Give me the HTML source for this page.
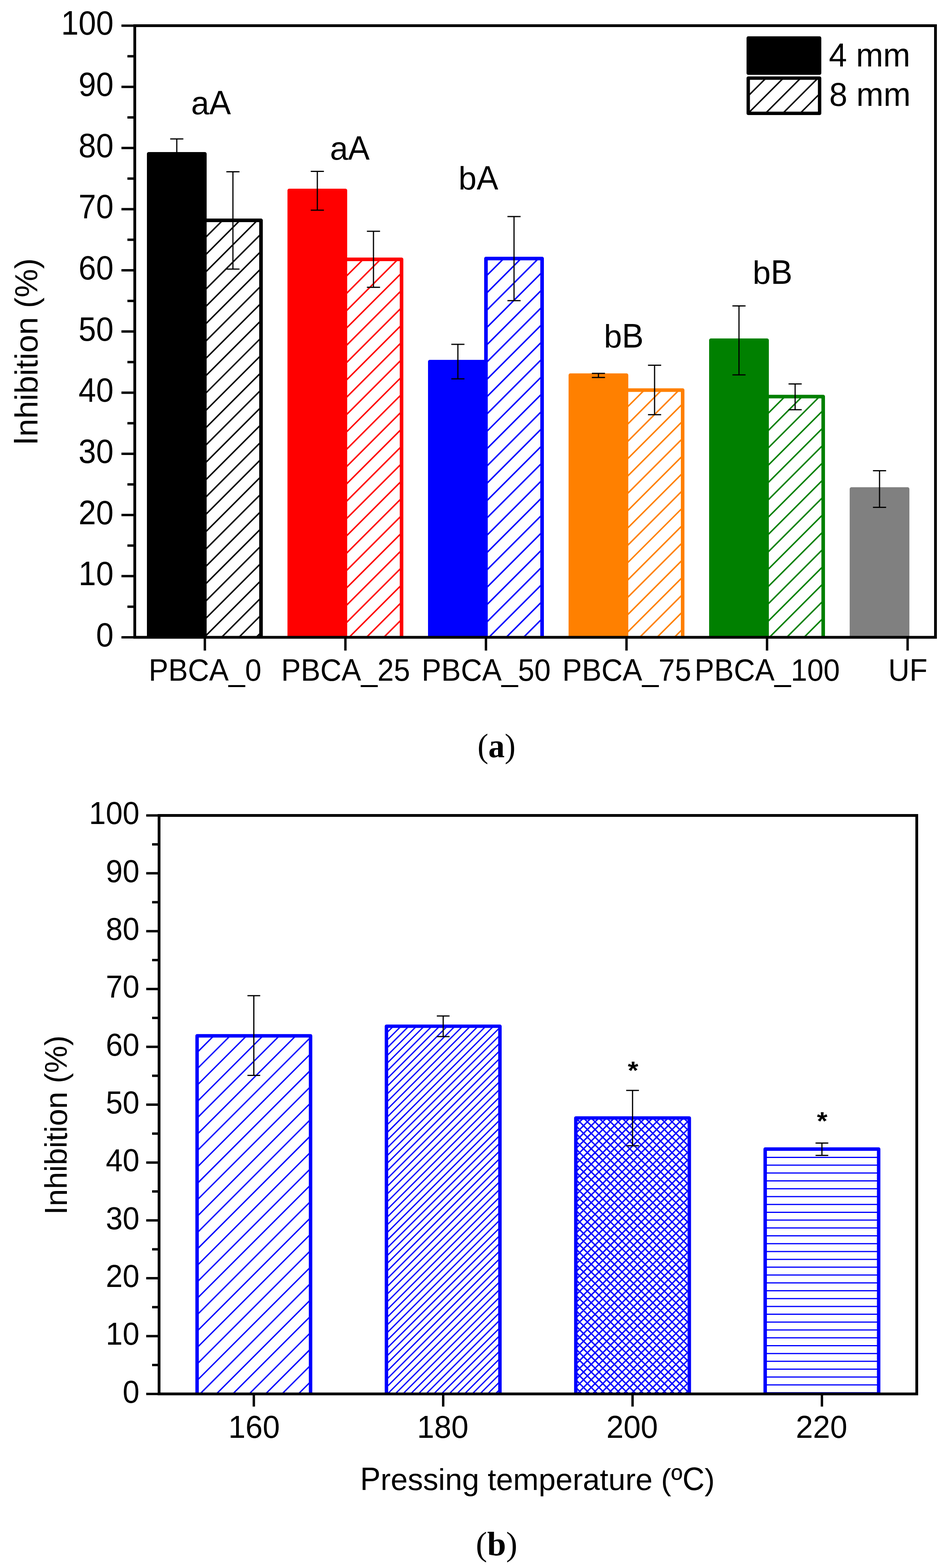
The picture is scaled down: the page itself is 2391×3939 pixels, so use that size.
<!DOCTYPE html>
<html><head><meta charset="utf-8"><title>Inhibition chart</title>
<style>html,body{margin:0;padding:0;background:#fff;}svg{display:block;}text{font-kerning:none;}</style>
</head><body>
<svg width="2391" height="3939" viewBox="0 0 2391 3939">
<rect x="0" y="0" width="2391" height="3939" fill="#fff"/>
<defs><clipPath id="pa"><rect x="0" y="0" width="2391" height="1601"/></clipPath><clipPath id="c1"><rect x="514.5" y="553.5" width="141" height="1051.5"/></clipPath><clipPath id="c2"><rect x="867.5" y="651.5" width="141" height="953.5"/></clipPath><clipPath id="c3"><rect x="1220.5" y="649.5" width="141" height="955.5"/></clipPath><clipPath id="c4"><rect x="1573.5" y="980" width="141" height="625"/></clipPath><clipPath id="c5"><rect x="1926.5" y="996.3" width="141" height="608.7"/></clipPath><clipPath id="c6"><rect x="1879.25" y="196.15" width="179.2" height="88.7"/></clipPath><clipPath id="pb"><rect x="0" y="0" width="2391" height="3501.7"/></clipPath><clipPath id="c7"><rect x="495" y="2602.2" width="285" height="903.5"/></clipPath><clipPath id="c8"><rect x="970.6" y="2578" width="285" height="927.7"/></clipPath><clipPath id="c9"><rect x="1446.2" y="2808.5" width="285" height="697.2"/></clipPath><clipPath id="c10"><rect x="1921.8" y="2886.6" width="285" height="619.1"/></clipPath></defs>
<g clip-path="url(#pa)">
<rect x="514.5" y="553.5" width="141" height="1051.5" fill="#fff"/>
<path clip-path="url(#c1)" d="M-627.86 1610L433.64 548.5M-584.33 1610L477.17 548.5M-540.8 1610L520.7 548.5M-497.27 1610L564.23 548.5M-453.74 1610L607.76 548.5M-410.21 1610L651.29 548.5M-366.68 1610L694.82 548.5M-323.15 1610L738.35 548.5M-279.62 1610L781.88 548.5M-236.09 1610L825.41 548.5M-192.56 1610L868.94 548.5M-149.03 1610L912.47 548.5M-105.5 1610L956 548.5M-61.97 1610L999.53 548.5M-18.44 1610L1043.06 548.5M25.09 1610L1086.59 548.5M68.62 1610L1130.12 548.5M112.15 1610L1173.65 548.5M155.68 1610L1217.18 548.5M199.21 1610L1260.71 548.5M242.74 1610L1304.24 548.5M286.27 1610L1347.77 548.5M329.8 1610L1391.3 548.5M373.33 1610L1434.83 548.5M416.86 1610L1478.36 548.5M460.39 1610L1521.89 548.5M503.92 1610L1565.42 548.5M547.45 1610L1608.95 548.5M590.98 1610L1652.48 548.5M634.51 1610L1696.01 548.5M678.04 1610L1739.54 548.5M721.57 1610L1783.07 548.5" stroke="#000000" stroke-width="3.7" fill="none"/>
<rect x="514.5" y="553.5" width="141" height="1051.5" fill="none" stroke="#000000" stroke-width="9" stroke-linejoin="round"/>
<rect x="373.5" y="386.5" width="141" height="1218.5" fill="#000000" stroke="#000000" stroke-width="9" stroke-linejoin="round"/>
<rect x="867.5" y="651.5" width="141" height="953.5" fill="#fff"/>
<path clip-path="url(#c2)" d="M-176.86 1610L786.64 646.5M-133.33 1610L830.17 646.5M-89.8 1610L873.7 646.5M-46.27 1610L917.23 646.5M-2.74 1610L960.76 646.5M40.79 1610L1004.29 646.5M84.32 1610L1047.82 646.5M127.85 1610L1091.35 646.5M171.38 1610L1134.88 646.5M214.91 1610L1178.41 646.5M258.44 1610L1221.94 646.5M301.97 1610L1265.47 646.5M345.5 1610L1309 646.5M389.03 1610L1352.53 646.5M432.56 1610L1396.06 646.5M476.09 1610L1439.59 646.5M519.62 1610L1483.12 646.5M563.15 1610L1526.65 646.5M606.68 1610L1570.18 646.5M650.21 1610L1613.71 646.5M693.74 1610L1657.24 646.5M737.27 1610L1700.77 646.5M780.8 1610L1744.3 646.5M824.33 1610L1787.83 646.5M867.86 1610L1831.36 646.5M911.39 1610L1874.89 646.5M954.92 1610L1918.42 646.5M998.45 1610L1961.95 646.5M1041.98 1610L2005.48 646.5M1085.51 1610L2049.01 646.5" stroke="#ff0000" stroke-width="3.7" fill="none"/>
<rect x="867.5" y="651.5" width="141" height="953.5" fill="none" stroke="#ff0000" stroke-width="9" stroke-linejoin="round"/>
<rect x="726.5" y="478.5" width="141" height="1126.5" fill="#ff0000" stroke="#ff0000" stroke-width="9" stroke-linejoin="round"/>
<rect x="1220.5" y="649.5" width="141" height="955.5" fill="#fff"/>
<path clip-path="url(#c3)" d="M174.14 1610L1139.64 644.5M217.67 1610L1183.17 644.5M261.2 1610L1226.7 644.5M304.73 1610L1270.23 644.5M348.26 1610L1313.76 644.5M391.79 1610L1357.29 644.5M435.32 1610L1400.82 644.5M478.85 1610L1444.35 644.5M522.38 1610L1487.88 644.5M565.91 1610L1531.41 644.5M609.44 1610L1574.94 644.5M652.97 1610L1618.47 644.5M696.5 1610L1662 644.5M740.03 1610L1705.53 644.5M783.56 1610L1749.06 644.5M827.09 1610L1792.59 644.5M870.62 1610L1836.12 644.5M914.15 1610L1879.65 644.5M957.68 1610L1923.18 644.5M1001.21 1610L1966.71 644.5M1044.74 1610L2010.24 644.5M1088.27 1610L2053.77 644.5M1131.8 1610L2097.3 644.5M1175.33 1610L2140.83 644.5M1218.86 1610L2184.36 644.5M1262.39 1610L2227.89 644.5M1305.92 1610L2271.42 644.5M1349.45 1610L2314.95 644.5M1392.98 1610L2358.48 644.5M1436.51 1610L2402.01 644.5" stroke="#0000ff" stroke-width="3.7" fill="none"/>
<rect x="1220.5" y="649.5" width="141" height="955.5" fill="none" stroke="#0000ff" stroke-width="9" stroke-linejoin="round"/>
<rect x="1079.5" y="908.5" width="141" height="696.5" fill="#0000ff" stroke="#0000ff" stroke-width="9" stroke-linejoin="round"/>
<rect x="1573.5" y="980" width="141" height="625" fill="#fff"/>
<path clip-path="url(#c4)" d="M857.64 1610L1492.64 975M901.17 1610L1536.17 975M944.7 1610L1579.7 975M988.23 1610L1623.23 975M1031.76 1610L1666.76 975M1075.29 1610L1710.29 975M1118.82 1610L1753.82 975M1162.35 1610L1797.35 975M1205.88 1610L1840.88 975M1249.41 1610L1884.41 975M1292.94 1610L1927.94 975M1336.47 1610L1971.47 975M1380 1610L2015 975M1423.53 1610L2058.53 975M1467.06 1610L2102.06 975M1510.59 1610L2145.59 975M1554.12 1610L2189.12 975M1597.65 1610L2232.65 975M1641.18 1610L2276.18 975M1684.71 1610L2319.71 975M1728.24 1610L2363.24 975M1771.77 1610L2406.77 975" stroke="#ff8000" stroke-width="3.7" fill="none"/>
<rect x="1573.5" y="980" width="141" height="625" fill="none" stroke="#ff8000" stroke-width="9" stroke-linejoin="round"/>
<rect x="1432.5" y="942.5" width="141" height="662.5" fill="#ff8000" stroke="#ff8000" stroke-width="9" stroke-linejoin="round"/>
<rect x="1926.5" y="996.3" width="141" height="608.7" fill="#fff"/>
<path clip-path="url(#c5)" d="M1226.94 1610L1845.64 991.3M1270.47 1610L1889.17 991.3M1314 1610L1932.7 991.3M1357.53 1610L1976.23 991.3M1401.06 1610L2019.76 991.3M1444.59 1610L2063.29 991.3M1488.12 1610L2106.82 991.3M1531.65 1610L2150.35 991.3M1575.18 1610L2193.88 991.3M1618.71 1610L2237.41 991.3M1662.24 1610L2280.94 991.3M1705.77 1610L2324.47 991.3M1749.3 1610L2368 991.3M1792.83 1610L2411.53 991.3M1836.36 1610L2455.06 991.3M1879.89 1610L2498.59 991.3M1923.42 1610L2542.12 991.3M1966.95 1610L2585.65 991.3M2010.48 1610L2629.18 991.3M2054.01 1610L2672.71 991.3M2097.54 1610L2716.24 991.3M2141.07 1610L2759.77 991.3" stroke="#008000" stroke-width="3.7" fill="none"/>
<rect x="1926.5" y="996.3" width="141" height="608.7" fill="none" stroke="#008000" stroke-width="9" stroke-linejoin="round"/>
<rect x="1785.5" y="854.7" width="141" height="750.3" fill="#008000" stroke="#008000" stroke-width="9" stroke-linejoin="round"/>
<rect x="2138.5" y="1228.5" width="141" height="376.5" fill="#808080" stroke="#808080" stroke-width="9" stroke-linejoin="round"/>
</g>
<line x1="444" y1="349" x2="444" y2="424" stroke="#000" stroke-width="3" stroke-linecap="butt"/>
<line x1="427.5" y1="349" x2="460.5" y2="349" stroke="#000" stroke-width="3" stroke-linecap="butt"/>
<line x1="427.5" y1="424" x2="460.5" y2="424" stroke="#000" stroke-width="3" stroke-linecap="butt"/>
<line x1="585" y1="431.5" x2="585" y2="676" stroke="#000" stroke-width="3" stroke-linecap="butt"/>
<line x1="568.5" y1="431.5" x2="601.5" y2="431.5" stroke="#000" stroke-width="3" stroke-linecap="butt"/>
<line x1="568.5" y1="676" x2="601.5" y2="676" stroke="#000" stroke-width="3" stroke-linecap="butt"/>
<line x1="797" y1="430.5" x2="797" y2="528" stroke="#000" stroke-width="3" stroke-linecap="butt"/>
<line x1="780.5" y1="430.5" x2="813.5" y2="430.5" stroke="#000" stroke-width="3" stroke-linecap="butt"/>
<line x1="780.5" y1="528" x2="813.5" y2="528" stroke="#000" stroke-width="3" stroke-linecap="butt"/>
<line x1="938" y1="580.9" x2="938" y2="721.8" stroke="#000" stroke-width="3" stroke-linecap="butt"/>
<line x1="921.5" y1="580.9" x2="954.5" y2="580.9" stroke="#000" stroke-width="3" stroke-linecap="butt"/>
<line x1="921.5" y1="721.8" x2="954.5" y2="721.8" stroke="#000" stroke-width="3" stroke-linecap="butt"/>
<line x1="1150" y1="865" x2="1150" y2="951.8" stroke="#000" stroke-width="3" stroke-linecap="butt"/>
<line x1="1133.5" y1="865" x2="1166.5" y2="865" stroke="#000" stroke-width="3" stroke-linecap="butt"/>
<line x1="1133.5" y1="951.8" x2="1166.5" y2="951.8" stroke="#000" stroke-width="3" stroke-linecap="butt"/>
<line x1="1291" y1="543.9" x2="1291" y2="755.2" stroke="#000" stroke-width="3" stroke-linecap="butt"/>
<line x1="1274.5" y1="543.9" x2="1307.5" y2="543.9" stroke="#000" stroke-width="3" stroke-linecap="butt"/>
<line x1="1274.5" y1="755.2" x2="1307.5" y2="755.2" stroke="#000" stroke-width="3" stroke-linecap="butt"/>
<line x1="1503" y1="938" x2="1503" y2="948.2" stroke="#000" stroke-width="3" stroke-linecap="butt"/>
<line x1="1486.5" y1="938" x2="1519.5" y2="938" stroke="#000" stroke-width="3" stroke-linecap="butt"/>
<line x1="1486.5" y1="948.2" x2="1519.5" y2="948.2" stroke="#000" stroke-width="3" stroke-linecap="butt"/>
<line x1="1644" y1="917.5" x2="1644" y2="1041.8" stroke="#000" stroke-width="3" stroke-linecap="butt"/>
<line x1="1627.5" y1="917.5" x2="1660.5" y2="917.5" stroke="#000" stroke-width="3" stroke-linecap="butt"/>
<line x1="1627.5" y1="1041.8" x2="1660.5" y2="1041.8" stroke="#000" stroke-width="3" stroke-linecap="butt"/>
<line x1="1856" y1="768.4" x2="1856" y2="941.8" stroke="#000" stroke-width="3" stroke-linecap="butt"/>
<line x1="1839.5" y1="768.4" x2="1872.5" y2="768.4" stroke="#000" stroke-width="3" stroke-linecap="butt"/>
<line x1="1839.5" y1="941.8" x2="1872.5" y2="941.8" stroke="#000" stroke-width="3" stroke-linecap="butt"/>
<line x1="1997" y1="964.5" x2="1997" y2="1029.3" stroke="#000" stroke-width="3" stroke-linecap="butt"/>
<line x1="1980.5" y1="964.5" x2="2013.5" y2="964.5" stroke="#000" stroke-width="3" stroke-linecap="butt"/>
<line x1="1980.5" y1="1029.3" x2="2013.5" y2="1029.3" stroke="#000" stroke-width="3" stroke-linecap="butt"/>
<line x1="2209" y1="1182.5" x2="2209" y2="1274.6" stroke="#000" stroke-width="3" stroke-linecap="butt"/>
<line x1="2192.5" y1="1182.5" x2="2225.5" y2="1182.5" stroke="#000" stroke-width="3" stroke-linecap="butt"/>
<line x1="2192.5" y1="1274.6" x2="2225.5" y2="1274.6" stroke="#000" stroke-width="3" stroke-linecap="butt"/>
<rect x="338.5" y="64.5" width="2011" height="1536.5" fill="none" stroke="#000" stroke-width="7"/>
<line x1="305" y1="1601" x2="338.5" y2="1601" stroke="#000" stroke-width="6" stroke-linecap="butt"/>
<line x1="320" y1="1524.17" x2="338.5" y2="1524.17" stroke="#000" stroke-width="6" stroke-linecap="butt"/>
<line x1="305" y1="1447.35" x2="338.5" y2="1447.35" stroke="#000" stroke-width="6" stroke-linecap="butt"/>
<line x1="320" y1="1370.53" x2="338.5" y2="1370.53" stroke="#000" stroke-width="6" stroke-linecap="butt"/>
<line x1="305" y1="1293.7" x2="338.5" y2="1293.7" stroke="#000" stroke-width="6" stroke-linecap="butt"/>
<line x1="320" y1="1216.88" x2="338.5" y2="1216.88" stroke="#000" stroke-width="6" stroke-linecap="butt"/>
<line x1="305" y1="1140.05" x2="338.5" y2="1140.05" stroke="#000" stroke-width="6" stroke-linecap="butt"/>
<line x1="320" y1="1063.22" x2="338.5" y2="1063.22" stroke="#000" stroke-width="6" stroke-linecap="butt"/>
<line x1="305" y1="986.4" x2="338.5" y2="986.4" stroke="#000" stroke-width="6" stroke-linecap="butt"/>
<line x1="320" y1="909.58" x2="338.5" y2="909.58" stroke="#000" stroke-width="6" stroke-linecap="butt"/>
<line x1="305" y1="832.75" x2="338.5" y2="832.75" stroke="#000" stroke-width="6" stroke-linecap="butt"/>
<line x1="320" y1="755.92" x2="338.5" y2="755.92" stroke="#000" stroke-width="6" stroke-linecap="butt"/>
<line x1="305" y1="679.1" x2="338.5" y2="679.1" stroke="#000" stroke-width="6" stroke-linecap="butt"/>
<line x1="320" y1="602.27" x2="338.5" y2="602.27" stroke="#000" stroke-width="6" stroke-linecap="butt"/>
<line x1="305" y1="525.45" x2="338.5" y2="525.45" stroke="#000" stroke-width="6" stroke-linecap="butt"/>
<line x1="320" y1="448.62" x2="338.5" y2="448.62" stroke="#000" stroke-width="6" stroke-linecap="butt"/>
<line x1="305" y1="371.8" x2="338.5" y2="371.8" stroke="#000" stroke-width="6" stroke-linecap="butt"/>
<line x1="320" y1="294.97" x2="338.5" y2="294.97" stroke="#000" stroke-width="6" stroke-linecap="butt"/>
<line x1="305" y1="218.15" x2="338.5" y2="218.15" stroke="#000" stroke-width="6" stroke-linecap="butt"/>
<line x1="320" y1="141.33" x2="338.5" y2="141.33" stroke="#000" stroke-width="6" stroke-linecap="butt"/>
<line x1="305" y1="64.5" x2="338.5" y2="64.5" stroke="#000" stroke-width="6" stroke-linecap="butt"/>
<line x1="514.5" y1="1601" x2="514.5" y2="1634.3" stroke="#000" stroke-width="6" stroke-linecap="butt"/>
<line x1="867.5" y1="1601" x2="867.5" y2="1634.3" stroke="#000" stroke-width="6" stroke-linecap="butt"/>
<line x1="1220.5" y1="1601" x2="1220.5" y2="1634.3" stroke="#000" stroke-width="6" stroke-linecap="butt"/>
<line x1="1573.5" y1="1601" x2="1573.5" y2="1634.3" stroke="#000" stroke-width="6" stroke-linecap="butt"/>
<line x1="1926.5" y1="1601" x2="1926.5" y2="1634.3" stroke="#000" stroke-width="6" stroke-linecap="butt"/>
<line x1="2279.5" y1="1601" x2="2279.5" y2="1634.3" stroke="#000" stroke-width="6" stroke-linecap="butt"/>
<text x="0" y="0" font-size="79" font-family="'Liberation Sans', Arial, sans-serif" transform="translate(241.25 1623.8) scale(1 1.07)">0</text>
<text x="0" y="0" font-size="79" font-family="'Liberation Sans', Arial, sans-serif" transform="translate(197.31 1470.15) scale(1 1.07)">10</text>
<text x="0" y="0" font-size="79" font-family="'Liberation Sans', Arial, sans-serif" transform="translate(197.31 1316.5) scale(1 1.07)">20</text>
<text x="0" y="0" font-size="79" font-family="'Liberation Sans', Arial, sans-serif" transform="translate(197.31 1162.85) scale(1 1.07)">30</text>
<text x="0" y="0" font-size="79" font-family="'Liberation Sans', Arial, sans-serif" transform="translate(197.31 1009.2) scale(1 1.07)">40</text>
<text x="0" y="0" font-size="79" font-family="'Liberation Sans', Arial, sans-serif" transform="translate(197.31 855.55) scale(1 1.07)">50</text>
<text x="0" y="0" font-size="79" font-family="'Liberation Sans', Arial, sans-serif" transform="translate(197.31 701.9) scale(1 1.07)">60</text>
<text x="0" y="0" font-size="79" font-family="'Liberation Sans', Arial, sans-serif" transform="translate(197.31 548.25) scale(1 1.07)">70</text>
<text x="0" y="0" font-size="79" font-family="'Liberation Sans', Arial, sans-serif" transform="translate(197.31 394.6) scale(1 1.07)">80</text>
<text x="0" y="0" font-size="79" font-family="'Liberation Sans', Arial, sans-serif" transform="translate(197.31 240.95) scale(1 1.07)">90</text>
<text x="0" y="0" font-size="79" font-family="'Liberation Sans', Arial, sans-serif" transform="translate(153.38 87.3) scale(1 1.07)">100</text>
<text x="0" y="0" font-size="73.74" font-family="'Liberation Sans', Arial, sans-serif" transform="translate(373.6 1710) scale(1 1.05)">PBCA_0</text>
<text x="0" y="0" font-size="73.74" font-family="'Liberation Sans', Arial, sans-serif" transform="translate(706.21 1710) scale(1 1.05)">PBCA_25</text>
<text x="0" y="0" font-size="73.74" font-family="'Liberation Sans', Arial, sans-serif" transform="translate(1059.1 1710) scale(1 1.05)">PBCA_50</text>
<text x="0" y="0" font-size="73.74" font-family="'Liberation Sans', Arial, sans-serif" transform="translate(1412.21 1710) scale(1 1.05)">PBCA_75</text>
<text x="0" y="0" font-size="73.74" font-family="'Liberation Sans', Arial, sans-serif" transform="translate(1744.59 1710) scale(1 1.05)">PBCA_100</text>
<text x="0" y="0" font-size="73.74" font-family="'Liberation Sans', Arial, sans-serif" transform="translate(2231.08 1710) scale(1 1.05)">UF</text>
<g transform="translate(93.8 1119.04) rotate(-90)"><text x="0" y="0" font-size="80.58" font-family="'Liberation Sans', Arial, sans-serif" transform="translate(0 0) scale(1 1.06)">I</text><text x="0" y="0" font-size="80.58" font-family="'Liberation Sans', Arial, sans-serif" transform="translate(22.39 0) scale(1 1)">nhibition (%)</text></g>
<text x="0" y="0" font-size="81.6" font-family="'Liberation Sans', Arial, sans-serif" transform="translate(480.03 287.4) scale(1 1)">a</text>
<text x="0" y="0" font-size="81.6" font-family="'Liberation Sans', Arial, sans-serif" transform="translate(525.42 287.4) scale(1 1.05)">A</text>
<text x="0" y="0" font-size="81.6" font-family="'Liberation Sans', Arial, sans-serif" transform="translate(828.63 400.8) scale(1 1)">a</text>
<text x="0" y="0" font-size="81.6" font-family="'Liberation Sans', Arial, sans-serif" transform="translate(874.02 400.8) scale(1 1.05)">A</text>
<text x="0" y="0" font-size="81.6" font-family="'Liberation Sans', Arial, sans-serif" transform="translate(1151.54 476.2) scale(1 1)">b</text>
<text x="0" y="0" font-size="81.6" font-family="'Liberation Sans', Arial, sans-serif" transform="translate(1196.92 476.2) scale(1 1.05)">A</text>
<text x="0" y="0" font-size="81.6" font-family="'Liberation Sans', Arial, sans-serif" transform="translate(1516.64 872.9) scale(1 1)">b</text>
<text x="0" y="0" font-size="81.6" font-family="'Liberation Sans', Arial, sans-serif" transform="translate(1562.02 872.9) scale(1 1.05)">B</text>
<text x="0" y="0" font-size="81.6" font-family="'Liberation Sans', Arial, sans-serif" transform="translate(1890.34 713.4) scale(1 1)">b</text>
<text x="0" y="0" font-size="81.6" font-family="'Liberation Sans', Arial, sans-serif" transform="translate(1935.72 713.4) scale(1 1.05)">B</text>
<rect x="1879.25" y="95.45" width="179.2" height="88.3" fill="#000" stroke="#000" stroke-width="8.5" stroke-linejoin="round"/>
<rect x="1879.25" y="196.15" width="179.2" height="88.7" fill="#fff"/>
<path clip-path="url(#c6)" d="M1699.69 289.85L1798.39 191.15M1743.22 289.85L1841.92 191.15M1786.75 289.85L1885.45 191.15M1830.28 289.85L1928.98 191.15M1873.81 289.85L1972.51 191.15M1917.34 289.85L2016.04 191.15M1960.87 289.85L2059.57 191.15M2004.4 289.85L2103.1 191.15M2047.93 289.85L2146.63 191.15M2091.46 289.85L2190.16 191.15M2134.99 289.85L2233.69 191.15" stroke="#000" stroke-width="3.7" fill="none"/>
<rect x="1879.25" y="196.15" width="179.2" height="88.7" fill="none" stroke="#000" stroke-width="8.5" stroke-linejoin="round"/>
<text x="0" y="0" font-size="81.8" font-family="'Liberation Sans', Arial, sans-serif" transform="translate(2081.72 167.2) scale(1 1.01)">4 mm</text>
<text x="0" y="0" font-size="81.8" font-family="'Liberation Sans', Arial, sans-serif" transform="translate(2082.65 266.3) scale(1 1.01)">8 mm</text>
<text x="0" y="0" font-size="85.5" font-family="'Liberation Serif', 'Times New Roman', serif" transform="translate(1199.19 1902.4) scale(0.96 1)">(<tspan font-weight="bold">a</tspan>)</text>
<g clip-path="url(#pb)">
<rect x="495" y="2602.2" width="285" height="903.5" fill="#fff"/>
<path clip-path="url(#c7)" d="M-495.28 3510.7L418.22 2597.2M-454.09 3510.7L459.41 2597.2M-412.9 3510.7L500.6 2597.2M-371.71 3510.7L541.79 2597.2M-330.52 3510.7L582.98 2597.2M-289.33 3510.7L624.17 2597.2M-248.14 3510.7L665.36 2597.2M-206.95 3510.7L706.55 2597.2M-165.76 3510.7L747.74 2597.2M-124.57 3510.7L788.93 2597.2M-83.38 3510.7L830.12 2597.2M-42.19 3510.7L871.31 2597.2M-1 3510.7L912.5 2597.2M40.19 3510.7L953.69 2597.2M81.38 3510.7L994.88 2597.2M122.57 3510.7L1036.07 2597.2M163.76 3510.7L1077.26 2597.2M204.95 3510.7L1118.45 2597.2M246.14 3510.7L1159.64 2597.2M287.33 3510.7L1200.83 2597.2M328.52 3510.7L1242.02 2597.2M369.71 3510.7L1283.21 2597.2M410.9 3510.7L1324.4 2597.2M452.09 3510.7L1365.59 2597.2M493.28 3510.7L1406.78 2597.2M534.47 3510.7L1447.97 2597.2M575.66 3510.7L1489.16 2597.2M616.85 3510.7L1530.35 2597.2M658.04 3510.7L1571.54 2597.2M699.23 3510.7L1612.73 2597.2M740.42 3510.7L1653.92 2597.2M781.61 3510.7L1695.11 2597.2M822.8 3510.7L1736.3 2597.2" stroke="#0000ff" stroke-width="3.4" fill="none"/>
<rect x="495" y="2602.2" width="285" height="903.5" fill="none" stroke="#0000ff" stroke-width="8.7" stroke-linejoin="round"/>
<rect x="970.6" y="2578" width="285" height="927.7" fill="#fff"/>
<path clip-path="url(#c8)" d="M16.57 3510.7L954.27 2573M35.91 3510.7L973.61 2573M55.25 3510.7L992.95 2573M74.59 3510.7L1012.29 2573M93.93 3510.7L1031.63 2573M113.27 3510.7L1050.97 2573M132.61 3510.7L1070.31 2573M151.95 3510.7L1089.65 2573M171.29 3510.7L1108.99 2573M190.63 3510.7L1128.33 2573M209.97 3510.7L1147.67 2573M229.31 3510.7L1167.01 2573M248.65 3510.7L1186.35 2573M267.99 3510.7L1205.69 2573M287.33 3510.7L1225.03 2573M306.67 3510.7L1244.37 2573M326.01 3510.7L1263.71 2573M345.35 3510.7L1283.05 2573M364.69 3510.7L1302.39 2573M384.03 3510.7L1321.73 2573M403.37 3510.7L1341.07 2573M422.71 3510.7L1360.41 2573M442.05 3510.7L1379.75 2573M461.39 3510.7L1399.09 2573M480.73 3510.7L1418.43 2573M500.07 3510.7L1437.77 2573M519.41 3510.7L1457.11 2573M538.75 3510.7L1476.45 2573M558.09 3510.7L1495.79 2573M577.43 3510.7L1515.13 2573M596.77 3510.7L1534.47 2573M616.11 3510.7L1553.81 2573M635.45 3510.7L1573.15 2573M654.79 3510.7L1592.49 2573M674.13 3510.7L1611.83 2573M693.47 3510.7L1631.17 2573M712.81 3510.7L1650.51 2573M732.15 3510.7L1669.85 2573M751.49 3510.7L1689.19 2573M770.83 3510.7L1708.53 2573M790.17 3510.7L1727.87 2573M809.51 3510.7L1747.21 2573M828.85 3510.7L1766.55 2573M848.19 3510.7L1785.89 2573M867.53 3510.7L1805.23 2573M886.87 3510.7L1824.57 2573M906.21 3510.7L1843.91 2573M925.55 3510.7L1863.25 2573M944.89 3510.7L1882.59 2573M964.23 3510.7L1901.93 2573M983.57 3510.7L1921.27 2573M1002.91 3510.7L1940.61 2573M1022.25 3510.7L1959.95 2573M1041.59 3510.7L1979.29 2573M1060.93 3510.7L1998.63 2573M1080.27 3510.7L2017.97 2573M1099.61 3510.7L2037.31 2573M1118.95 3510.7L2056.65 2573M1138.29 3510.7L2075.99 2573M1157.63 3510.7L2095.33 2573M1176.97 3510.7L2114.67 2573M1196.31 3510.7L2134.01 2573M1215.65 3510.7L2153.35 2573M1234.99 3510.7L2172.69 2573M1254.33 3510.7L2192.03 2573M1273.67 3510.7L2211.37 2573" stroke="#0000ff" stroke-width="3.2" fill="none"/>
<rect x="970.6" y="2578" width="285" height="927.7" fill="none" stroke="#0000ff" stroke-width="8.7" stroke-linejoin="round"/>
<rect x="1446.2" y="2808.5" width="285" height="697.2" fill="#fff"/>
<path clip-path="url(#c9)" d="M724.66 3510.7L1431.86 2803.5M744 3510.7L1451.2 2803.5M763.34 3510.7L1470.54 2803.5M782.68 3510.7L1489.88 2803.5M802.02 3510.7L1509.22 2803.5M821.36 3510.7L1528.56 2803.5M840.7 3510.7L1547.9 2803.5M860.04 3510.7L1567.24 2803.5M879.38 3510.7L1586.58 2803.5M898.72 3510.7L1605.92 2803.5M918.06 3510.7L1625.26 2803.5M937.4 3510.7L1644.6 2803.5M956.74 3510.7L1663.94 2803.5M976.08 3510.7L1683.28 2803.5M995.42 3510.7L1702.62 2803.5M1014.76 3510.7L1721.96 2803.5M1034.1 3510.7L1741.3 2803.5M1053.44 3510.7L1760.64 2803.5M1072.78 3510.7L1779.98 2803.5M1092.12 3510.7L1799.32 2803.5M1111.46 3510.7L1818.66 2803.5M1130.8 3510.7L1838 2803.5M1150.14 3510.7L1857.34 2803.5M1169.48 3510.7L1876.68 2803.5M1188.82 3510.7L1896.02 2803.5M1208.16 3510.7L1915.36 2803.5M1227.5 3510.7L1934.7 2803.5M1246.84 3510.7L1954.04 2803.5M1266.18 3510.7L1973.38 2803.5M1285.52 3510.7L1992.72 2803.5M1304.86 3510.7L2012.06 2803.5M1324.2 3510.7L2031.4 2803.5M1343.54 3510.7L2050.74 2803.5M1362.88 3510.7L2070.08 2803.5M1382.22 3510.7L2089.42 2803.5M1401.56 3510.7L2108.76 2803.5M1420.9 3510.7L2128.1 2803.5M1440.24 3510.7L2147.44 2803.5M1459.58 3510.7L2166.78 2803.5M1478.92 3510.7L2186.12 2803.5M1498.26 3510.7L2205.46 2803.5M1517.6 3510.7L2224.8 2803.5M1536.94 3510.7L2244.14 2803.5M1556.28 3510.7L2263.48 2803.5M1575.62 3510.7L2282.82 2803.5M1594.96 3510.7L2302.16 2803.5M1614.3 3510.7L2321.5 2803.5M1633.64 3510.7L2340.84 2803.5M1652.98 3510.7L2360.18 2803.5M1672.32 3510.7L2379.52 2803.5M1691.66 3510.7L2398.86 2803.5M1711 3510.7L2418.2 2803.5M1730.34 3510.7L2437.54 2803.5M1749.68 3510.7L2456.88 2803.5M706.28 2803.5L1413.48 3510.7M725.62 2803.5L1432.82 3510.7M744.96 2803.5L1452.16 3510.7M764.3 2803.5L1471.5 3510.7M783.64 2803.5L1490.84 3510.7M802.98 2803.5L1510.18 3510.7M822.32 2803.5L1529.52 3510.7M841.66 2803.5L1548.86 3510.7M861 2803.5L1568.2 3510.7M880.34 2803.5L1587.54 3510.7M899.68 2803.5L1606.88 3510.7M919.02 2803.5L1626.22 3510.7M938.36 2803.5L1645.56 3510.7M957.7 2803.5L1664.9 3510.7M977.04 2803.5L1684.24 3510.7M996.38 2803.5L1703.58 3510.7M1015.72 2803.5L1722.92 3510.7M1035.06 2803.5L1742.26 3510.7M1054.4 2803.5L1761.6 3510.7M1073.74 2803.5L1780.94 3510.7M1093.08 2803.5L1800.28 3510.7M1112.42 2803.5L1819.62 3510.7M1131.76 2803.5L1838.96 3510.7M1151.1 2803.5L1858.3 3510.7M1170.44 2803.5L1877.64 3510.7M1189.78 2803.5L1896.98 3510.7M1209.12 2803.5L1916.32 3510.7M1228.46 2803.5L1935.66 3510.7M1247.8 2803.5L1955 3510.7M1267.14 2803.5L1974.34 3510.7M1286.48 2803.5L1993.68 3510.7M1305.82 2803.5L2013.02 3510.7M1325.16 2803.5L2032.36 3510.7M1344.5 2803.5L2051.7 3510.7M1363.84 2803.5L2071.04 3510.7M1383.18 2803.5L2090.38 3510.7M1402.52 2803.5L2109.72 3510.7M1421.86 2803.5L2129.06 3510.7M1441.2 2803.5L2148.4 3510.7M1460.54 2803.5L2167.74 3510.7M1479.88 2803.5L2187.08 3510.7M1499.22 2803.5L2206.42 3510.7M1518.56 2803.5L2225.76 3510.7M1537.9 2803.5L2245.1 3510.7M1557.24 2803.5L2264.44 3510.7M1576.58 2803.5L2283.78 3510.7M1595.92 2803.5L2303.12 3510.7M1615.26 2803.5L2322.46 3510.7M1634.6 2803.5L2341.8 3510.7M1653.94 2803.5L2361.14 3510.7M1673.28 2803.5L2380.48 3510.7M1692.62 2803.5L2399.82 3510.7M1711.96 2803.5L2419.16 3510.7M1731.3 2803.5L2438.5 3510.7M1750.64 2803.5L2457.84 3510.7" stroke="#0000ff" stroke-width="3.5" fill="none"/>
<rect x="1446.2" y="2808.5" width="285" height="697.2" fill="none" stroke="#0000ff" stroke-width="8.7" stroke-linejoin="round"/>
<rect x="1921.8" y="2886.6" width="285" height="619.1" fill="#fff"/>
<path clip-path="url(#c10)" d="M1919.8 2887.7L2208.8 2887.7M1919.8 2907.41L2208.8 2907.41M1919.8 2927.12L2208.8 2927.12M1919.8 2946.83L2208.8 2946.83M1919.8 2966.54L2208.8 2966.54M1919.8 2986.25L2208.8 2986.25M1919.8 3005.96L2208.8 3005.96M1919.8 3025.67L2208.8 3025.67M1919.8 3045.38L2208.8 3045.38M1919.8 3065.09L2208.8 3065.09M1919.8 3084.8L2208.8 3084.8M1919.8 3104.51L2208.8 3104.51M1919.8 3124.22L2208.8 3124.22M1919.8 3143.93L2208.8 3143.93M1919.8 3163.64L2208.8 3163.64M1919.8 3183.35L2208.8 3183.35M1919.8 3203.06L2208.8 3203.06M1919.8 3222.77L2208.8 3222.77M1919.8 3242.48L2208.8 3242.48M1919.8 3262.19L2208.8 3262.19M1919.8 3281.9L2208.8 3281.9M1919.8 3301.61L2208.8 3301.61M1919.8 3321.32L2208.8 3321.32M1919.8 3341.03L2208.8 3341.03M1919.8 3360.74L2208.8 3360.74M1919.8 3380.45L2208.8 3380.45M1919.8 3400.16L2208.8 3400.16M1919.8 3419.87L2208.8 3419.87M1919.8 3439.58L2208.8 3439.58M1919.8 3459.29L2208.8 3459.29M1919.8 3479L2208.8 3479M1919.8 3498.71L2208.8 3498.71M1919.8 3518.42L2208.8 3518.42" stroke="#0000ff" stroke-width="3" fill="none"/>
<rect x="1921.8" y="2886.6" width="285" height="619.1" fill="none" stroke="#0000ff" stroke-width="8.7" stroke-linejoin="round"/>
</g>
<line x1="637.5" y1="2501.3" x2="637.5" y2="2701.5" stroke="#000" stroke-width="3" stroke-linecap="butt"/>
<line x1="621.5" y1="2501.3" x2="653.5" y2="2501.3" stroke="#000" stroke-width="3" stroke-linecap="butt"/>
<line x1="621.5" y1="2701.5" x2="653.5" y2="2701.5" stroke="#000" stroke-width="3" stroke-linecap="butt"/>
<line x1="1113.1" y1="2552.2" x2="1113.1" y2="2604" stroke="#000" stroke-width="3" stroke-linecap="butt"/>
<line x1="1097.1" y1="2552.2" x2="1129.1" y2="2552.2" stroke="#000" stroke-width="3" stroke-linecap="butt"/>
<line x1="1097.1" y1="2604" x2="1129.1" y2="2604" stroke="#000" stroke-width="3" stroke-linecap="butt"/>
<line x1="1588.7" y1="2739.3" x2="1588.7" y2="2878.2" stroke="#000" stroke-width="3" stroke-linecap="butt"/>
<line x1="1572.7" y1="2739.3" x2="1604.7" y2="2739.3" stroke="#000" stroke-width="3" stroke-linecap="butt"/>
<line x1="1572.7" y1="2878.2" x2="1604.7" y2="2878.2" stroke="#000" stroke-width="3" stroke-linecap="butt"/>
<line x1="2064.3" y1="2871.4" x2="2064.3" y2="2902.5" stroke="#000" stroke-width="3" stroke-linecap="butt"/>
<line x1="2048.3" y1="2871.4" x2="2080.3" y2="2871.4" stroke="#000" stroke-width="3" stroke-linecap="butt"/>
<line x1="2048.3" y1="2902.5" x2="2080.3" y2="2902.5" stroke="#000" stroke-width="3" stroke-linecap="butt"/>
<rect x="399.5" y="2048.5" width="1903" height="1453.2" fill="none" stroke="#000" stroke-width="7"/>
<line x1="367.2" y1="3501.7" x2="399.5" y2="3501.7" stroke="#000" stroke-width="6" stroke-linecap="butt"/>
<line x1="382" y1="3429.04" x2="399.5" y2="3429.04" stroke="#000" stroke-width="6" stroke-linecap="butt"/>
<line x1="367.2" y1="3356.38" x2="399.5" y2="3356.38" stroke="#000" stroke-width="6" stroke-linecap="butt"/>
<line x1="382" y1="3283.72" x2="399.5" y2="3283.72" stroke="#000" stroke-width="6" stroke-linecap="butt"/>
<line x1="367.2" y1="3211.06" x2="399.5" y2="3211.06" stroke="#000" stroke-width="6" stroke-linecap="butt"/>
<line x1="382" y1="3138.4" x2="399.5" y2="3138.4" stroke="#000" stroke-width="6" stroke-linecap="butt"/>
<line x1="367.2" y1="3065.74" x2="399.5" y2="3065.74" stroke="#000" stroke-width="6" stroke-linecap="butt"/>
<line x1="382" y1="2993.08" x2="399.5" y2="2993.08" stroke="#000" stroke-width="6" stroke-linecap="butt"/>
<line x1="367.2" y1="2920.42" x2="399.5" y2="2920.42" stroke="#000" stroke-width="6" stroke-linecap="butt"/>
<line x1="382" y1="2847.76" x2="399.5" y2="2847.76" stroke="#000" stroke-width="6" stroke-linecap="butt"/>
<line x1="367.2" y1="2775.1" x2="399.5" y2="2775.1" stroke="#000" stroke-width="6" stroke-linecap="butt"/>
<line x1="382" y1="2702.44" x2="399.5" y2="2702.44" stroke="#000" stroke-width="6" stroke-linecap="butt"/>
<line x1="367.2" y1="2629.78" x2="399.5" y2="2629.78" stroke="#000" stroke-width="6" stroke-linecap="butt"/>
<line x1="382" y1="2557.12" x2="399.5" y2="2557.12" stroke="#000" stroke-width="6" stroke-linecap="butt"/>
<line x1="367.2" y1="2484.46" x2="399.5" y2="2484.46" stroke="#000" stroke-width="6" stroke-linecap="butt"/>
<line x1="382" y1="2411.8" x2="399.5" y2="2411.8" stroke="#000" stroke-width="6" stroke-linecap="butt"/>
<line x1="367.2" y1="2339.14" x2="399.5" y2="2339.14" stroke="#000" stroke-width="6" stroke-linecap="butt"/>
<line x1="382" y1="2266.48" x2="399.5" y2="2266.48" stroke="#000" stroke-width="6" stroke-linecap="butt"/>
<line x1="367.2" y1="2193.82" x2="399.5" y2="2193.82" stroke="#000" stroke-width="6" stroke-linecap="butt"/>
<line x1="382" y1="2121.16" x2="399.5" y2="2121.16" stroke="#000" stroke-width="6" stroke-linecap="butt"/>
<line x1="367.2" y1="2048.5" x2="399.5" y2="2048.5" stroke="#000" stroke-width="6" stroke-linecap="butt"/>
<line x1="637.5" y1="3501.7" x2="637.5" y2="3533.5" stroke="#000" stroke-width="6" stroke-linecap="butt"/>
<line x1="1113.1" y1="3501.7" x2="1113.1" y2="3533.5" stroke="#000" stroke-width="6" stroke-linecap="butt"/>
<line x1="1588.7" y1="3501.7" x2="1588.7" y2="3533.5" stroke="#000" stroke-width="6" stroke-linecap="butt"/>
<line x1="2064.3" y1="3501.7" x2="2064.3" y2="3533.5" stroke="#000" stroke-width="6" stroke-linecap="butt"/>
<text x="0" y="0" font-size="76" font-family="'Liberation Sans', Arial, sans-serif" transform="translate(308.1 3523.6) scale(1 1.04)">0</text>
<text x="0" y="0" font-size="76" font-family="'Liberation Sans', Arial, sans-serif" transform="translate(265.83 3378.28) scale(1 1.04)">10</text>
<text x="0" y="0" font-size="76" font-family="'Liberation Sans', Arial, sans-serif" transform="translate(265.83 3232.96) scale(1 1.04)">20</text>
<text x="0" y="0" font-size="76" font-family="'Liberation Sans', Arial, sans-serif" transform="translate(265.83 3087.64) scale(1 1.04)">30</text>
<text x="0" y="0" font-size="76" font-family="'Liberation Sans', Arial, sans-serif" transform="translate(265.83 2942.32) scale(1 1.04)">40</text>
<text x="0" y="0" font-size="76" font-family="'Liberation Sans', Arial, sans-serif" transform="translate(265.83 2797) scale(1 1.04)">50</text>
<text x="0" y="0" font-size="76" font-family="'Liberation Sans', Arial, sans-serif" transform="translate(265.83 2651.68) scale(1 1.04)">60</text>
<text x="0" y="0" font-size="76" font-family="'Liberation Sans', Arial, sans-serif" transform="translate(265.83 2506.36) scale(1 1.04)">70</text>
<text x="0" y="0" font-size="76" font-family="'Liberation Sans', Arial, sans-serif" transform="translate(265.83 2361.04) scale(1 1.04)">80</text>
<text x="0" y="0" font-size="76" font-family="'Liberation Sans', Arial, sans-serif" transform="translate(265.83 2215.72) scale(1 1.04)">90</text>
<text x="0" y="0" font-size="76" font-family="'Liberation Sans', Arial, sans-serif" transform="translate(223.57 2070.4) scale(1 1.04)">100</text>
<text x="0" y="0" font-size="77.5" font-family="'Liberation Sans', Arial, sans-serif" transform="translate(573.46 3612.3) scale(1 1.03)">160</text>
<text x="0" y="0" font-size="77.5" font-family="'Liberation Sans', Arial, sans-serif" transform="translate(1047.41 3612.3) scale(1 1.03)">180</text>
<text x="0" y="0" font-size="77.5" font-family="'Liberation Sans', Arial, sans-serif" transform="translate(1523.01 3612.3) scale(1 1.03)">200</text>
<text x="0" y="0" font-size="77.5" font-family="'Liberation Sans', Arial, sans-serif" transform="translate(1998.71 3612.3) scale(1 1.03)">220</text>
<g transform="translate(167.8 3051.42) rotate(-90)"><text x="0" y="0" font-size="77.14" font-family="'Liberation Sans', Arial, sans-serif" transform="translate(0 0) scale(1 1.03)">I</text><text x="0" y="0" font-size="77.14" font-family="'Liberation Sans', Arial, sans-serif" transform="translate(21.43 0) scale(1 1)">nhibition (%)</text></g>
<g transform="translate(904.45 3743.1)"><text x="0" y="0" font-size="76.84" font-family="'Liberation Sans', Arial, sans-serif" transform="translate(0 0) scale(1 1.05)">P</text><text x="0" y="0" font-size="76.84" font-family="'Liberation Sans', Arial, sans-serif" transform="translate(51.25 0) scale(1 1)">ressing temperature (º</text><text x="0" y="0" font-size="76.84" font-family="'Liberation Sans', Arial, sans-serif" transform="translate(809.6 0) scale(1 1.05)">C</text><text x="0" y="0" font-size="76.84" font-family="'Liberation Sans', Arial, sans-serif" transform="translate(865.09 0) scale(1 1)">)</text></g>
<text x="0" y="0" font-size="64" font-family="'Liberation Sans', Arial, sans-serif" font-weight="bold" transform="translate(1576.73 2710.4) scale(1.06 0.97)">*</text>
<text x="0" y="0" font-size="64" font-family="'Liberation Sans', Arial, sans-serif" font-weight="bold" transform="translate(2051.73 2837.3) scale(1.06 0.97)">*</text>
<text x="0" y="0" font-size="85.5" font-family="'Liberation Serif', 'Times New Roman', serif" transform="translate(1195.04 3907.2) scale(1 1)">(<tspan font-weight="bold">b</tspan>)</text>
</svg>
</body></html>
